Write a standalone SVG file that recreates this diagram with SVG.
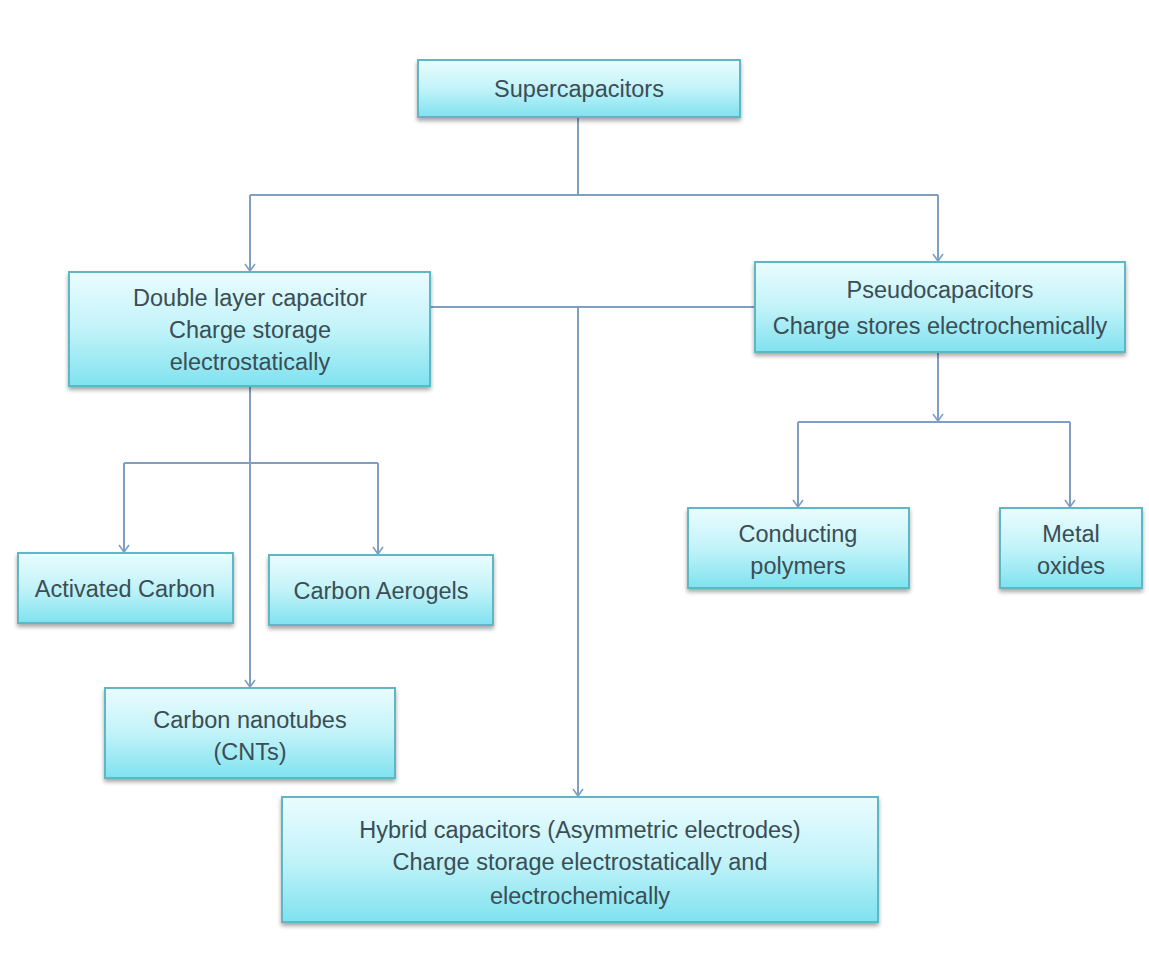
<svg xmlns="http://www.w3.org/2000/svg" width="1149" height="972" viewBox="0 0 1149 972">
<defs>
<linearGradient id="g" x1="0" y1="0" x2="0" y2="1">
<stop offset="0" stop-color="#eafcfe"/>
<stop offset="0.5" stop-color="#c2f3f9"/>
<stop offset="1" stop-color="#7fe2ef"/>
</linearGradient>
<filter id="sh" x="-5%" y="-10%" width="110%" height="130%">
<feGaussianBlur in="SourceAlpha" stdDeviation="2"/>
<feOffset dx="0" dy="3"/>
<feComponentTransfer><feFuncA type="linear" slope="0.35"/></feComponentTransfer>
<feMerge><feMergeNode/><feMergeNode in="SourceGraphic"/></feMerge>
</filter>
<marker id="ar" viewBox="0 0 12 12" refX="11" refY="6" markerWidth="12" markerHeight="12" markerUnits="userSpaceOnUse" orient="auto">
<path d="M4,1 L11,6 L4,11" fill="none" stroke="#7f9fc2" stroke-width="1.6"/>
</marker>
</defs>
<style>
.box{fill:url(#g);stroke:#5fb7c6;stroke-width:2;filter:url(#sh)}
.t{font-family:"Liberation Sans",Arial,sans-serif;font-size:23.5px;fill:#3b4d55;text-anchor:middle}
.c{fill:none;stroke:#7f9fc2;stroke-width:2}
</style>
<rect width="1149" height="972" fill="#ffffff"/>
<g id="connectors">
<path class="c" d="M578,117 V195 M250,195 H938"/>
<path class="c" d="M250,195 V271" marker-end="url(#ar)"/>
<path class="c" d="M938,195 V261" marker-end="url(#ar)"/>
<path class="c" d="M430,307 H755"/>
<path class="c" d="M578,307 V796" marker-end="url(#ar)"/>
<path class="c" d="M250,386 V687" marker-end="url(#ar)"/>
<path class="c" d="M124,463 H378"/>
<path class="c" d="M124,463 V552" marker-end="url(#ar)"/>
<path class="c" d="M378,463 V554" marker-end="url(#ar)"/>
<path class="c" d="M938,352 V421" marker-end="url(#ar)"/>
<path class="c" d="M798,422 H1070"/>
<path class="c" d="M798,422 V507" marker-end="url(#ar)"/>
<path class="c" d="M1070,422 V507" marker-end="url(#ar)"/>
</g>
<g id="supercapacitors">
<rect class="box" x="418" y="60" width="322" height="57"/>
<text class="t" x="579" y="97">Supercapacitors</text>
</g>
<g id="double-layer">
<rect class="box" x="69" y="272" width="361" height="114"/>
<text class="t" x="250" y="306">Double layer capacitor</text>
<text class="t" x="250" y="338">Charge storage</text>
<text class="t" x="250" y="370">electrostatically</text>
</g>
<g id="pseudocapacitors">
<rect class="box" x="755" y="262" width="370" height="90"/>
<text class="t" x="940" y="298">Pseudocapacitors</text>
<text class="t" x="940" y="334">Charge stores electrochemically</text>
</g>
<g id="activated-carbon">
<rect class="box" x="18" y="553" width="215" height="70"/>
<text class="t" x="125" y="597">Activated Carbon</text>
</g>
<g id="carbon-aerogels">
<rect class="box" x="269" y="555" width="224" height="70"/>
<text class="t" x="381" y="599">Carbon Aerogels</text>
</g>
<g id="conducting-polymers">
<rect class="box" x="688" y="508" width="221" height="80"/>
<text class="t" x="798" y="542">Conducting</text>
<text class="t" x="798" y="574">polymers</text>
</g>
<g id="metal-oxides">
<rect class="box" x="1000" y="508" width="142" height="80"/>
<text class="t" x="1071" y="542">Metal</text>
<text class="t" x="1071" y="574">oxides</text>
</g>
<g id="carbon-nanotubes">
<rect class="box" x="105" y="688" width="290" height="90"/>
<text class="t" x="250" y="728">Carbon nanotubes</text>
<text class="t" x="250" y="760">(CNTs)</text>
</g>
<g id="hybrid">
<rect class="box" x="282" y="797" width="596" height="125"/>
<text class="t" x="580" y="838">Hybrid capacitors (Asymmetric electrodes)</text>
<text class="t" x="580" y="870">Charge storage electrostatically and</text>
<text class="t" x="580" y="904">electrochemically</text>
</g>
</svg>
